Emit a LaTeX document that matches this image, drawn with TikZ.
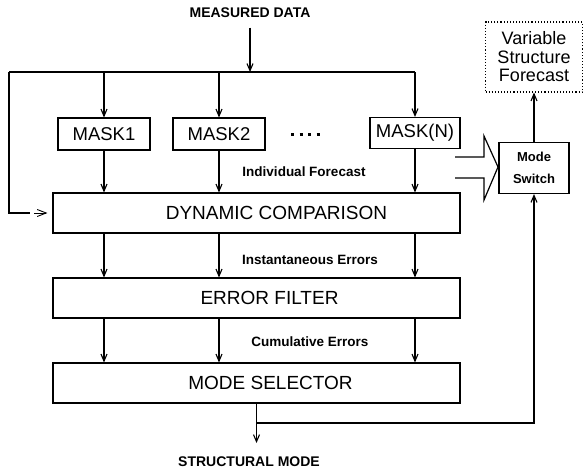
\documentclass[tikz,border=0pt]{standalone}
\usepackage{fontspec}
\setmainfont{Liberation Sans}
\usetikzlibrary{arrows.meta}
\begin{document}
\begin{tikzpicture}[x=1pt,y=-1pt,
  line width=1.1pt,
  arr/.style={-{Straight Barb[length=7pt,width=6pt]}},
  box/.style={draw,rectangle,inner sep=0pt,font=\fontsize{18.5}{20}\selectfont},
  bigbox/.style={box,minimum width=407pt,minimum height=40pt,font=\fontsize{19}{20}\selectfont},
  lbl/.style={font=\bfseries\fontsize{13.5}{15}\selectfont,inner sep=0pt},
  ttl/.style={font=\bfseries\fontsize{14}{16}\selectfont,inner sep=0pt}]
\useasboundingbox (0,0) rectangle (583,471);

\node[ttl] (md) at (250,13) {MEASURED DATA};
\node[box,minimum width=92pt,minimum height=32pt] (mask1) at (104,134) {MASK1};
\node[box,minimum width=92pt,minimum height=32pt] (mask2) at (219,134) {MASK2};
\node[box,minimum width=90pt,minimum height=31pt] (maskn) at (415,133) {MASK(N)};
\draw[line width=3pt,dash pattern=on 3pt off 5.5pt] (291,134) -- (322,134);

\node[bigbox] (dc) at (256.5,213) {\hspace*{40pt}DYNAMIC COMPARISON};
\node[bigbox] (ef) at (256.5,298) {\hspace*{26pt}ERROR FILTER};
\node[bigbox] (ms) at (256.5,383) {\hspace*{28pt}MODE SELECTOR};

\node[box,minimum width=70pt,minimum height=51pt,font=\bfseries\fontsize{13}{22}\selectfont,align=center] (sw) at (534,168) {Mode\\Switch};
\node[box,dotted,minimum width=97pt,minimum height=70pt,font=\fontsize{18}{18.5}\selectfont,align=center] (vsf) at (534,57) {Variable\\Structure\\Forecast};

\node[lbl] (l1) at (304,172) {Individual Forecast};
\node[lbl] (l2) at (310,260) {Instantaneous Errors};
\node[lbl] (l3) at (310,342) {Cumulative Errors};
\node[ttl] (sm) at (249,462) {STRUCTURAL MODE};

% input bus
\coordinate (busL) at (9,72);
\draw[arr] (md.south) ++(0,9) -- (md |- busL);
\draw (busL) -- (maskn.north |- busL);
\draw[arr] (mask1.north |- busL) -- (mask1.north);
\draw[arr] (mask2.north |- busL) -- (mask2.north);
\draw[arr] (maskn.north |- busL) -- (maskn.north);
\draw (busL) |- (30,213);
\draw[-{Straight Barb[length=9pt,width=7pt]},line width=0.9pt,shorten >=5pt] (34,213) -- (dc.west);

% masks to dynamic comparison
\foreach \m in {mask1,mask2,maskn}{
  \draw[arr] (\m.south) -- (\m.south |- dc.north);
  \draw[arr] (\m.south |- dc.south) -- (\m.south |- ef.north);
  \draw[arr] (\m.south |- ef.south) -- (\m.south |- ms.north);
}

% output
\coordinate (smArr) at (256.5,443);
\coordinate (fb) at (256.5,423);
\draw[arr] (ms.south) -- (smArr);
\draw[arr] (fb) -| (sw.south);
\draw[arr] (sw.north) -- (vsf.south);

% hollow arrow
\draw[line width=1.2pt,line join=miter] (455,157) -- (484,157) -- (484,136) -- (498,167) -- (484,200) -- (484,178) -- (455,178);
\end{tikzpicture}
\end{document}
